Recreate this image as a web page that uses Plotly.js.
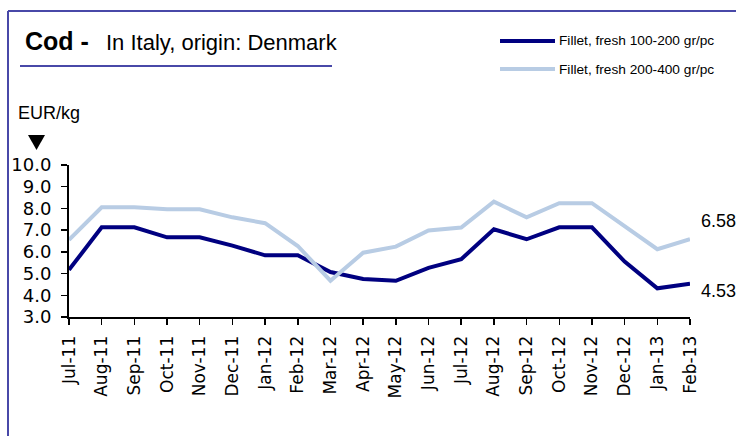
<!DOCTYPE html>
<html>
<head>
<meta charset="utf-8">
<script src="https://cdn.plot.ly/plotly-3.0.1.min.js"></script>
<style>html,body{margin:0;padding:0;background:#fff;}#chart{width:736px;height:436px;}</style>
</head>
<body>
<div id="chart"></div>
<script>
const months = ["Jul-11","Aug-11","Sep-11","Oct-11","Nov-11","Dec-11","Jan-12","Feb-12","Mar-12","Apr-12","May-12","Jun-12","Jul-12","Aug-12","Sep-12","Oct-12","Nov-12","Dec-12","Jan-13","Feb-13"];
const fillet100_200 = [5.17,7.13,7.13,6.67,6.67,6.29,5.84,5.84,5.07,4.75,4.67,5.26,5.66,7.04,6.58,7.13,7.13,5.55,4.32,4.53];
const fillet200_400 = [6.55,8.05,8.05,7.96,7.96,7.59,7.32,6.27,4.67,5.96,6.24,6.98,7.12,8.31,7.59,8.24,8.24,7.19,6.12,6.58];
const seriesNames = ["Fillet, fresh 100-200 gr/pc","Fillet, fresh 200-400 gr/pc"];
const seriesColors = ["#000080","#b8cce4"];
const yTicks = [3,4,5,6,7,8,9,10];

const W=736,H=436,L=69,R=690,T=165,B=317;
const px = x => (x-L)/(R-L);
const py = y => (B-y)/(B-T);
const FONT = "Arial, 'Liberation Sans', sans-serif";
const TICKFONT = "'DejaVu Sans', Arial, sans-serif";
const frameColor = "#4848a8";

const traces = [fillet100_200, fillet200_400].map((vals,i)=>({
  type:'scatter', mode:'lines', x:months, y:vals, name:seriesNames[i],
  line:{color:seriesColors[i], width:4}, showlegend:false, hoverinfo:'skip'
}));

const shapes = [
  {type:'line', xref:'paper', yref:'paper', x0:px(8), x1:px(736), y0:py(11), y1:py(11), line:{color:frameColor,width:2}},
  {type:'line', xref:'paper', yref:'paper', x0:px(8), x1:px(8), y0:py(11), y1:py(436), line:{color:frameColor,width:2}},
  {type:'line', xref:'paper', yref:'paper', x0:px(20), x1:px(332), y0:py(66), y1:py(66), line:{color:frameColor,width:2}},
  {type:'line', xref:'paper', yref:'paper', x0:px(500), x1:px(555), y0:py(41), y1:py(41), line:{color:seriesColors[0],width:4}},
  {type:'line', xref:'paper', yref:'paper', x0:px(500), x1:px(555), y0:py(69), y1:py(69), line:{color:seriesColors[1],width:4}},
  {type:'path', xref:'paper', yref:'paper', path:`M ${px(28)} ${py(135)} L ${px(45)} ${py(135)} L ${px(36.5)} ${py(150)} Z`, fillcolor:'#000', line:{width:0}}
];

const last = months.length-1;
const annotations = [
  {xref:'paper', yref:'paper', x:px(23), y:py(41), xanchor:'left', yanchor:'middle', showarrow:false, text:'<b>Cod -</b>', font:{family:FONT,size:25,color:'#000'}},
  {xref:'paper', yref:'paper', x:px(104), y:py(42), xanchor:'left', yanchor:'middle', showarrow:false, text:'In Italy, origin: Denmark', font:{family:FONT,size:22,color:'#000'}},
  {xref:'paper', yref:'paper', x:px(16), y:py(113), xanchor:'left', yanchor:'middle', showarrow:false, text:'EUR/kg', font:{family:FONT,size:18,color:'#000'}},
  {xref:'paper', yref:'paper', x:px(557), y:py(41), xanchor:'left', yanchor:'middle', showarrow:false, text:seriesNames[0], font:{family:FONT,size:13.7,color:'#000'}},
  {xref:'paper', yref:'paper', x:px(557), y:py(69), xanchor:'left', yanchor:'middle', showarrow:false, text:seriesNames[1], font:{family:FONT,size:13.7,color:'#000'}},
  {x:months[last], y:fillet200_400[last], xanchor:'left', yanchor:'middle', xshift:9, yshift:18, showarrow:false, text:fillet200_400[last].toFixed(2), font:{family:FONT,size:18,color:'#000'}},
  {x:months[last], y:fillet100_200[last], xanchor:'left', yanchor:'middle', xshift:9, yshift:-7, showarrow:false, text:fillet100_200[last].toFixed(2), font:{family:FONT,size:18,color:'#000'}}
];

const layout = {
  width:W, height:H, margin:{l:L, r:W-R, t:T, b:H-B, pad:0},
  paper_bgcolor:'#fff', plot_bgcolor:'#fff',
  font:{family:FONT, color:'#000'},
  xaxis:{type:'category', range:[0, months.length-1], showgrid:false, zeroline:false,
    showline:true, linecolor:'#000', linewidth:2, ticks:'outside', ticklen:6, tickwidth:1.5, tickcolor:'#000',
    tickangle:-90, tickfont:{family:TICKFONT,size:17,color:'#000'}, ticklabelstandoff:4, fixedrange:true},
  yaxis:{range:[3,10], tickvals:yTicks, ticktext:yTicks.map(v=>v.toFixed(1)), showgrid:false, zeroline:false,
    showline:true, linecolor:'#000', linewidth:2, ticks:'outside', ticklen:6, tickwidth:1.5, tickcolor:'#000',
    tickfont:{family:TICKFONT,size:18,color:'#000'}, ticklabelstandoff:6, fixedrange:true},
  shapes:shapes, annotations:annotations, showlegend:false
};
Plotly.newPlot('chart', traces, layout, {staticPlot:true, displayModeBar:false});
</script>
</body>
</html>
